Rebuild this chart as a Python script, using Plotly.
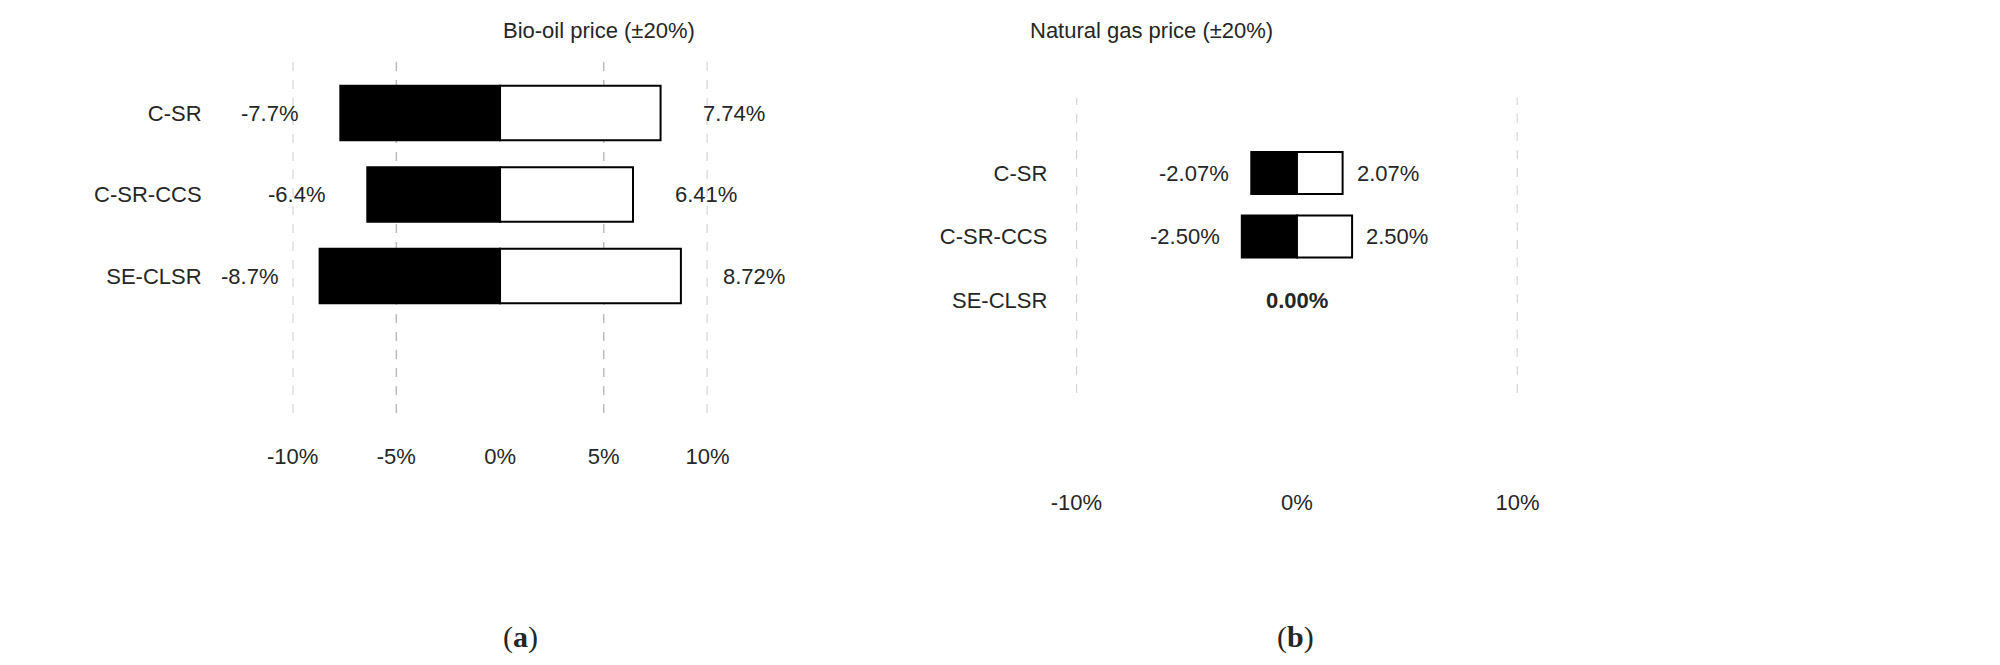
import plotly.graph_objects as go

# Sensitivity data (% change)
cases = ['C-SR', 'C-SR-CCS', 'SE-CLSR']
bio_low = [-7.7, -6.4, -8.7]
bio_high = [7.74, 6.41, 8.72]
bio_low_txt = ['-7.7%', '-6.4%', '-8.7%']
bio_high_txt = ['7.74%', '6.41%', '8.72%']
gas_low = [-2.07, -2.50, 0.0]
gas_high = [2.07, 2.50, 0.0]
gas_low_txt = ['-2.07%', '-2.50%', '']
gas_high_txt = ['2.07%', '2.50%', '']
ticks = [-10, -5, 0, 5, 10]
tick_text = ['-10%', '-5%', '0%', '5%', '10%']

FONT = 'Liberation Sans'
fs = 22

fig = go.Figure()
for xa, ya, low, high, w in [('x', 'y', bio_low, bio_high, 0.67), ('x2', 'y2', gas_low, gas_high, 0.66)]:
    lw = [2 if v != 0 else 0 for v in low]
    fig.add_trace(go.Bar(y=cases, x=low, orientation='h', base=0, width=w,
                         marker=dict(color='black', line=dict(color='black', width=lw)),
                         xaxis=xa, yaxis=ya, showlegend=False))
    fig.add_trace(go.Bar(y=cases, x=high, orientation='h', base=0, width=w,
                         marker=dict(color='white', line=dict(color='black', width=lw)),
                         xaxis=xa, yaxis=ya, showlegend=False))

# dashed gridlines (no line at 0)
for g in [-10, -5, 5, 10]:
    fig.add_shape(type='line', xref='x', yref='y domain', x0=g, x1=g, y0=0, y1=1,
                  line=dict(color='#bbbbbb', width=1.5, dash='dash'), layer='below')
for g in [-10, 10]:
    fig.add_shape(type='line', xref='x2', yref='y2 domain', x0=g, x1=g, y0=0, y1=1,
                  line=dict(color='#bbbbbb', width=1.5, dash='dash'), layer='below')

ann = []
for c, lo, hi, lt, ht in zip(cases, bio_low, bio_high, bio_low_txt, bio_high_txt):
    ann.append(dict(x=lo, y=c, xref='x', yref='y', text=lt, showarrow=False,
                    xanchor='right', xshift=-40))
    ann.append(dict(x=hi, y=c, xref='x', yref='y', text=ht, showarrow=False,
                    xanchor='left', xshift=40))
for c, lo, hi, lt, ht in zip(cases, gas_low, gas_high, gas_low_txt, gas_high_txt):
    if lt:
        ann.append(dict(x=lo, y=c, xref='x2', yref='y2', text=lt, showarrow=False,
                        xanchor='right', xshift=-20))
        ann.append(dict(x=hi, y=c, xref='x2', yref='y2', text=ht, showarrow=False,
                        xanchor='left', xshift=12))
    else:
        ann.append(dict(x=0, y=c, xref='x2', yref='y2', text='<b>0.00%</b>', showarrow=False))

ann.append(dict(x=478 / 2000, y=1 - 8 / 665, xref='paper', yref='paper', text='Bio-oil price (±20%)',
                showarrow=False, font=dict(size=fs)))
ann.append(dict(x=1145 / 2000, y=1 - 8 / 665, xref='paper', yref='paper', text='Natural gas price (±20%)',
                showarrow=False, font=dict(size=fs)))
ann.append(dict(x=478 / 2000, y=1 - 648 / 665, xref='paper', yref='paper', text='(<b>a</b>)',
                showarrow=False, font=dict(size=30, family='Liberation Serif')))
ann.append(dict(x=1293 / 2000, y=1 - 648 / 665, xref='paper', yref='paper', text='(<b>b</b>)',
                showarrow=False, font=dict(size=30, family='Liberation Serif')))

fig.update_layout(
    width=2000, height=665, margin=dict(l=0, r=0, t=0, b=0),
    plot_bgcolor='white', paper_bgcolor='white', barmode='overlay',
    font=dict(family=FONT, size=fs, color='#262626'),
    annotations=ann,
    xaxis=dict(domain=[265 / 2000, 690 / 2000], range=[-10, 10], tickvals=ticks, ticktext=tick_text,
               showgrid=False, zeroline=False, showline=False, ticklabelstandoff=28, anchor='y'),
    yaxis=dict(domain=[1 - 405 / 665, 1 - 50 / 665], range=[3.68, -0.675], type='category',
               categoryorder='array', categoryarray=cases, showgrid=False, zeroline=False,
               ticklabelstandoff=90, anchor='x'),
    xaxis2=dict(domain=[1068 / 2000, 1520 / 2000], range=[-10, 10], tickvals=[-10, 0, 10],
                ticktext=['-10%', '0%', '10%'], showgrid=False, zeroline=False, showline=False,
                ticklabelstandoff=94, anchor='y2'),
    yaxis2=dict(domain=[1 - 385 / 665, 1 - 90 / 665], range=[3.46, -1.18], type='category',
                categoryorder='array', categoryarray=cases, showgrid=False, zeroline=False,
                ticklabelstandoff=28, anchor='x2'),
)

fig.write_html('out.html')
